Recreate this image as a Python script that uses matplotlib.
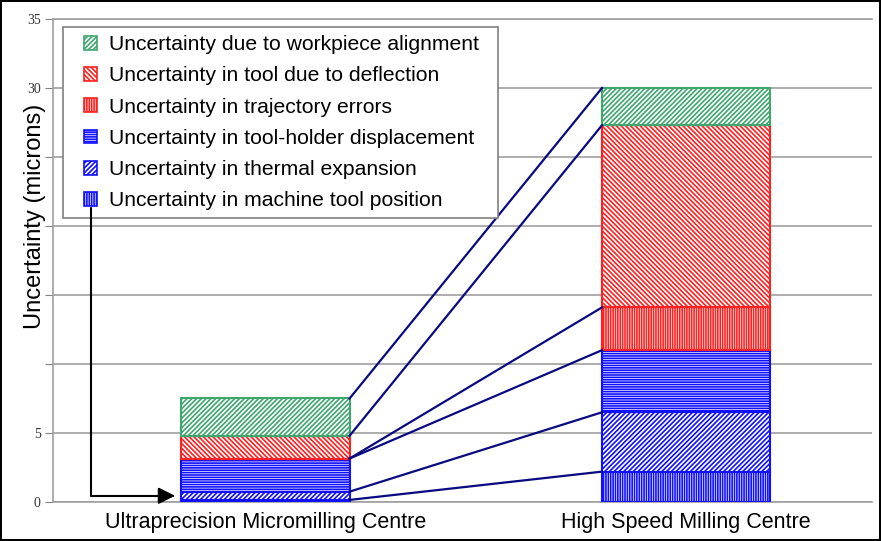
import matplotlib.pyplot as plt
from matplotlib.patches import Patch, Rectangle
from matplotlib.legend_handler import HandlerPatch
from matplotlib.path import Path
import numpy as np

plt.rcParams['font.family'] = ['Liberation Sans', 'DejaVu Sans']
plt.rcParams['hatch.linewidth'] = 1.2

centres = ['Ultraprecision Micromilling Centre', 'High Speed Milling Centre']

# stacked from the bottom up
sources = [
    'Uncertainty in machine tool position',
    'Uncertainty in thermal expansion',
    'Uncertainty in tool-holder displacement',
    'Uncertainty in trajectory errors',
    'Uncertainty in tool due to deflection',
    'Uncertainty due to workpiece alignment',
]
machine_position = [0.15, 2.2]
thermal_expansion = [0.6, 4.3]
holder_displacement = [2.4, 4.5]
trajectory_errors = [0.0, 3.1]
tool_deflection = [1.65, 13.2]
workpiece_alignment = [2.7, 2.7]

values = [machine_position, thermal_expansion, holder_displacement,
          trajectory_errors, tool_deflection, workpiece_alignment]
colors = ['#1010ff', '#1010ff', '#1010ff', '#ff2020', '#ff2020', '#3fa66e']
hatches = ['|||||||', '///////', '-------', '|||||||', '\\\\\\\\\\\\\\', '///////']

yticks = [0, 5, 10, 15, 20, 25, 30, 35]
ytick_labels = ['0', '5', '', '', '', '', '30', '35']


class SquareHandler(HandlerPatch):
    # small square swatch sitting at the right end of the handle box
    def create_artists(self, legend, orig_handle, xdescent, ydescent,
                       width, height, fontsize, trans):
        side = height
        p = Rectangle((width - side - xdescent, -ydescent), side, side,
                      facecolor='white', edgecolor=orig_handle.get_edgecolor(),
                      hatch=orig_handle.get_hatch(), linewidth=1.2,
                      transform=trans)
        return [p]


def wide_box(x0, y0, width, height, mutation_size):
    # legend frame with extra room on the right only
    x1 = x0 + width + 0.5 * mutation_size
    y1 = y0 + height
    return Path([(x0, y0), (x1, y0), (x1, y1), (x0, y1), (x0, y0)], closed=True)


fig = plt.figure(figsize=(8.81, 5.41), dpi=100, edgecolor='black', linewidth=1.5)
ax = fig.add_axes([0.0602, 0.0721, 0.9296, 0.8928])

x = np.arange(len(centres))
width = 0.40
bottom = np.zeros(len(centres))
tops = []
for vals, c, h in zip(values, colors, hatches):
    ax.bar(x, vals, width, bottom=bottom, color='white', edgecolor=c,
           hatch=h, linewidth=1.5, zorder=3)
    bottom = bottom + np.array(vals)
    tops.append(bottom.copy())

# lines joining the segment boundaries of the two bars
for t in tops:
    ax.plot([x[0] + width / 2, x[1] - width / 2], [t[0], t[1]],
            color='#0a0a80', lw=1.6, zorder=4)

ax.set_xlim(-0.505, 1.442)
ax.set_ylim(0, 35)
ax.set_yticks(yticks)
ax.set_yticklabels(ytick_labels, family='Liberation Serif', fontsize=10, color='#333333')
ax.tick_params(axis='y', length=6, color='#808080', pad=3)
ax.set_xticks(x)
ax.set_xticklabels(centres, fontsize=15.5)
ax.tick_params(axis='x', length=0, pad=7)
ax.yaxis.grid(True, color='#a0a0a0', lw=1.2, zorder=0)
ax.set_axisbelow(True)
ax.spines['right'].set_visible(False)
for side in ['left', 'top', 'bottom']:
    ax.spines[side].set_color('#a0a0a0')
    ax.spines[side].set_linewidth(1.2)

ax.set_ylabel('Uncertainty (microns)', fontsize=17)
ax.yaxis.set_label_coords(-0.008, 0.592)

handles = [Patch(facecolor='white', edgecolor=c, hatch=h, label=s)
           for s, c, h in zip(sources, colors, hatches)][::-1]
leg = ax.legend(handles=handles, loc='upper left', bbox_to_anchor=(0.012, 0.983),
                borderaxespad=0, fontsize=15.2, handlelength=1.26, handleheight=0.62,
                handletextpad=0.55, labelspacing=0.58, borderpad=0.38,
                fancybox=False, edgecolor='#808080', framealpha=1,
                handler_map={Patch: SquareHandler()})
leg.get_frame().set_linewidth(1.2)
leg.get_frame().set_boxstyle(wide_box)

ax.annotate('', xy=(-0.215, 0.45), xytext=(-0.415, 21.3),
            arrowprops=dict(arrowstyle='-|>', color='black', lw=1.5,
                            mutation_scale=25, shrinkA=0, shrinkB=0,
                            connectionstyle='angle,angleA=90,angleB=0,rad=0'),
            zorder=6)

fig.savefig('out.png', dpi=100)
